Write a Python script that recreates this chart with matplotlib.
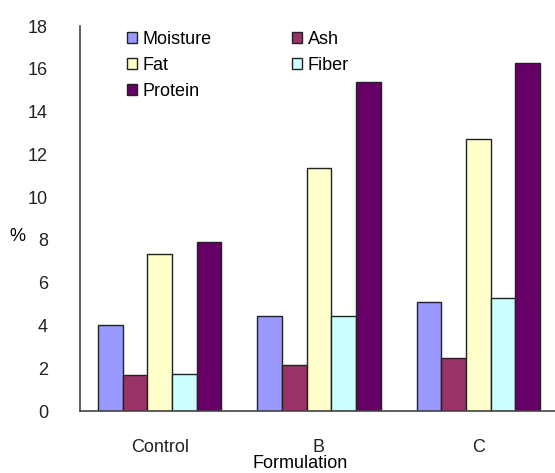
import matplotlib
matplotlib.use("Agg")
import matplotlib.pyplot as plt
import numpy as np

plt.rcParams['font.family'] = ['Liberation Sans', 'DejaVu Sans']

categories = ["Control", "B", "C"]
series = ["Moisture", "Ash", "Fat", "Fiber", "Protein"]
moisture = [4.03, 4.45, 5.08]
ash = [1.69, 2.17, 2.47]
fat = [7.34, 11.35, 12.7]
fiber = [1.75, 4.44, 5.27]
protein = [7.92, 15.4, 16.25]
colors = ["#9999FF", "#993366", "#FFFFCC", "#CCFFFF", "#660066"]

values = [moisture, ash, fat, fiber, protein]

fig = plt.figure(figsize=(5.55, 4.73), dpi=100)
ax = fig.add_axes([80/555, 62/473, 478/555, 385/473])

x = np.arange(len(categories))
w = 0.155
handles = {}
for i, (name, vals, c) in enumerate(zip(series, values, colors)):
    offs = (i - 2) * w
    b = ax.bar(x + offs, vals, width=w, color=c, edgecolor="#222222", linewidth=1.0, label=name)
    handles[name] = b

ax.set_xlim(-0.5, 2.5)
ax.set_ylim(0, 18)
ax.set_yticks(np.arange(0, 19, 2))
ax.set_xticks(x)
ax.set_xticklabels(categories, fontsize=13)
ax.tick_params(axis='both', length=0, labelsize=13, colors="#222222")
ax.tick_params(axis='y', pad=23)
ax.tick_params(axis='x', pad=20)
for s in ["top", "right"]:
    ax.spines[s].set_visible(False)
for s in ["left", "bottom"]:
    ax.spines[s].set_color("#444444")
    ax.spines[s].set_linewidth(1.2)

ax.set_xlabel("Formulation", fontsize=13, labelpad=0)
ax.xaxis.set_label_coords(0.46, -0.115)
ax.set_ylabel("%", fontsize=13, rotation=0)
ax.yaxis.set_label_coords(-0.13, 0.43)

order = ["Moisture", "Fat", "Protein", "Ash", "Fiber"]
leg = ax.legend([handles[n] for n in order], order, ncol=2, loc="upper left",
                bbox_to_anchor=(0.075, 1.015), frameon=False, fontsize=13,
                handlelength=0.55, handleheight=0.55, handletextpad=0.3,
                columnspacing=4.5, labelspacing=0.5, borderaxespad=0.2)

fig.savefig("out.png", dpi=100)
